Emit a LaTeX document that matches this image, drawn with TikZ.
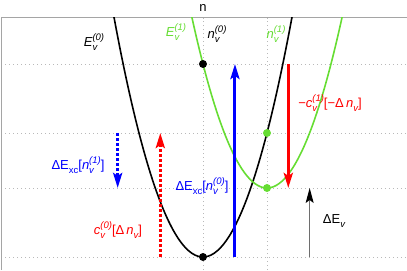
\documentclass[tikz,border=0pt]{standalone}
\usepackage{fontspec}
\setmainfont{Liberation Sans}
\usepackage{xcolor}
\usepackage{tikz}
\usetikzlibrary{arrows.meta}

\definecolor{curvegreen}{RGB}{102,221,51}
\definecolor{gridgray}{RGB}{185,185,185}
\definecolor{framegray}{RGB}{165,165,165}
\definecolor{arrowgray}{RGB}{110,110,110}

% small raised / lowered script text
\newcommand{\subtxt}[1]{\raisebox{-0.3em}{\fontsize{9.5}{9.5}\selectfont #1}}
\newcommand{\suptxt}[1]{\raisebox{0.5em}{\fontsize{9.5}{9.5}\selectfont #1}}
% stacked superscript / subscript after a letter
\newcommand{\supsub}[2]{\rlap{\subtxt{#2}}\suptxt{#1}}

\begin{document}
\begin{tikzpicture}[x=2.25cm, y=2.18cm,
    every node/.style={font=\fontsize{13}{15}\selectfont, inner sep=0pt},
    grid/.style={gridgray, line width=0.8pt, dash pattern=on 1.2pt off 2.8pt},
    frame/.style={framegray, line width=1pt},
    curve/.style={line width=1.6pt, smooth, samples=60},
    bigarrow/.style={line width=3pt, -{Stealth[length=15pt, width=9pt, inset=3pt]}},
    dotarrow/.style={bigarrow, dash pattern=on 3pt off 2pt},
    dot/.style={circle, minimum size=8pt, inner sep=0pt},
]
\useasboundingbox (-3.172,-0.21) rectangle (3.188,4.145);

% Grid and frame
\foreach \e in {0, 1.113, 2, 3.113}
    \draw[grid] (-3.156,\e) -- (3.188,\e);
\foreach \n in {0, 1}
    \draw[grid] (\n,-0.21) -- (\n,3.855);
\draw[frame] (-3.156,-0.21) -- (-3.156,3.855) -- (3.188,3.855);
\node (naxis) at (0,4.016) {n};

% Parabolas
\begin{scope}
\clip (-3.156,-0.3) rectangle (3.188,3.855);
\draw[curve, black, domain=-1.45:1.45] plot (\x, {2*\x*\x});
\draw[curve, curvegreen, domain=-0.25:2.25] plot (\x, {2*(\x-1)*(\x-1)+1.113});
\end{scope}

% Curve labels
\node (lE0) at (-1.703,3.468) {\itshape E\supsub{(0)}{v}};
\node[curvegreen] (lE1) at (-0.422,3.629) {\itshape E\supsub{(1)}{v}};
\node (ln0) at (0.219,3.597) {\itshape n\supsub{(0)}{v}};
\node[curvegreen] (ln1) at (1.141,3.597) {\itshape n\supsub{(1)}{v}};

% Arrow end points
\coordinate (xcfoot) at (0.5,0);
\coordinate (xchead) at (0.5,3.113);
\coordinate (cfoot) at (1.333,3.113);
\coordinate (chead) at (1.333,1.113);
\coordinate (dcfoot) at (-0.667,0);
\coordinate (dchead) at (-0.667,2);
\coordinate (dxcfoot) at (-1.333,2);
\coordinate (dxchead) at (-1.333,1.113);
\coordinate (evfoot) at (1.667,0);
\coordinate (evhead) at (1.667,1.113);

% Arrows
\draw[bigarrow, blue] (xcfoot) -- (xchead);
\draw[bigarrow, red] (cfoot) -- (chead);
\draw[dotarrow, red] (dcfoot) -- (dchead);
\draw[dotarrow, blue] (dxcfoot) -- (dxchead);
\draw[arrowgray, line width=1pt, -{Stealth[length=15pt, width=8pt, inset=3pt, black]}] (evfoot) -- (evhead);

% Arrow labels
\node[blue] (lxc0) at (-0.016,1.145) {ΔE\subtxt{xc}[{\itshape n\supsub{(0)}{v}}]};
\node[red] (lc1) at (1.984,2.484) {−{\itshape c\supsub{(1)}{v}}[−Δ\,{\itshape n\subtxt{v}}]};
\node[red] (lc0) at (-1.328,0.435) {{\itshape c\supsub{(0)}{v}}[Δ\,{\itshape n\subtxt{v}}]};
\node[blue] (lxc1) at (-1.953,1.484) {ΔE\subtxt{xc}[{\itshape n\supsub{(1)}{v}}]};
\node (lev) at (2.047,0.581) {ΔE{\itshape\subtxt{v}}};

% Points
\node[dot, fill=black] (p0top) at (0,3.113) {};
\node[dot, fill=black] (p0min) at (0,0) {};
\node[dot, fill=curvegreen] (p1mid) at (1,2) {};
\node[dot, fill=curvegreen] (p1min) at (1,1.113) {};

\end{tikzpicture}
\end{document}
